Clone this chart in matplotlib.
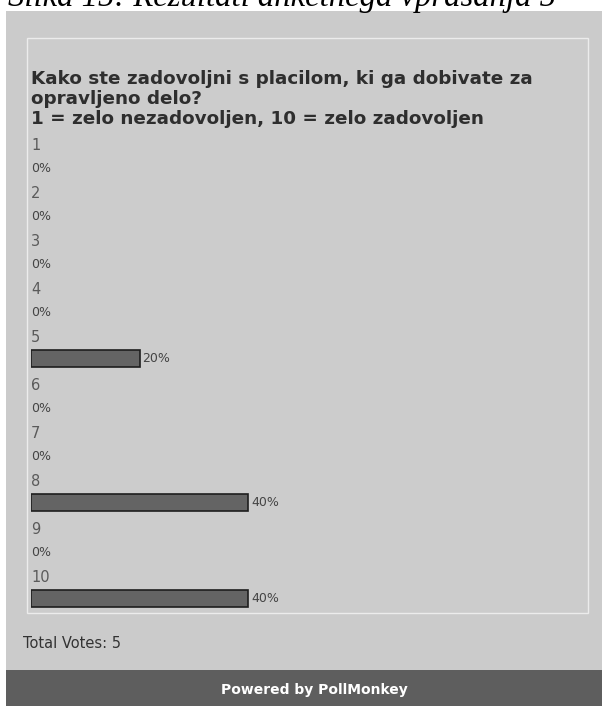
import matplotlib
matplotlib.use("Agg")
import matplotlib.pyplot as plt
from matplotlib.patches import Rectangle

# Poll data
categories = ["1", "2", "3", "4", "5", "6", "7", "8", "9", "10"]
percentages = [0, 0, 0, 0, 20, 0, 0, 40, 0, 40]
question = ["Kako ste zadovoljni s placilom, ki ga dobivate za",
            "opravljeno delo?",
            "1 = zelo nezadovoljen, 10 = zelo zadovoljen"]
total_votes = 5
caption = "Slika 15: Rezultati anketnega vprašanja 5"
footer = "Powered by PollMonkey"

W, H = 602, 706
fig = plt.figure(figsize=(W / 100, H / 100), dpi=100)
fig.patch.set_facecolor("white")

# Background axes in pixel coordinates (y downwards)
bg = fig.add_axes([0, 0, 1, 1])
bg.set_xlim(0, W)
bg.set_ylim(H, 0)
bg.axis("off")

# Caption above the widget, partially cut off by the top edge
bg.text(8, 6, caption, fontsize=23.5, style="italic", family="Liberation Serif",
        color="black", va="baseline", ha="left", clip_on=True)

# Widget panel
bg.add_patch(Rectangle((6, 11), W - 6, 660, facecolor="#cbcbcb", edgecolor="none"))
# Inner box with light border
bg.add_patch(Rectangle((27, 38), 561, 575, facecolor="#cccccc",
                       edgecolor="#ececec", linewidth=1.0))
# Footer band
bg.add_patch(Rectangle((6, 670), W - 6, 36, facecolor="#5e5e5e", edgecolor="none"))

# Question text
for i, line in enumerate(question):
    bg.text(31, 79 + i * 20, line, fontsize=13.2, fontweight="bold",
            color="#2e2e2e", va="center", ha="left", family="DejaVu Sans")

bg.text(23, 643, f"Total Votes: {total_votes}", fontsize=10.5, color="#333333",
        va="center", ha="left", family="DejaVu Sans")
bg.text(314, 690, footer, fontsize=10, fontweight="bold", color="white",
        va="center", ha="center", family="DejaVu Sans")

# Bar axes: x is percentage, rows are answer options
x0_px, full_px = 31, 543
row0_px, row_h = 166, 48
n = len(categories)
top_px = row0_px - row_h / 2
bot_px = row0_px + row_h * (n - 0.5)
ax = fig.add_axes([x0_px / W, 1 - bot_px / H, full_px / W, (bot_px - top_px) / H])
ax.set_xlim(0, 100)
ax.set_ylim(n - 0.5, -0.5)
ax.axis("off")
ax.patch.set_alpha(0)

bar_h = 17 / row_h
px_per_pct = full_px / 100
rows = list(range(n))
ax.barh([r for r, p in zip(rows, percentages) if p > 0],
        [p for p in percentages if p > 0], height=bar_h, left=0,
        color="#646464", edgecolor="#1e1e1e", linewidth=1.2)

for r, cat, p in zip(rows, categories, percentages):
    ax.text(0, r - 21 / row_h, cat, fontsize=10.5, color="#5a5a5a",
            va="center", ha="left", family="DejaVu Sans")
    if p > 0:
        ax.text(p + 3 / px_per_pct, r, f"{p}%", fontsize=9, color="#444444",
                va="center", ha="left", family="DejaVu Sans")
    else:
        ax.text(0, r + 2 / row_h, f"{p}%", fontsize=9, color="#444444",
                va="center", ha="left", family="DejaVu Sans")

fig.savefig("out.png", dpi=100)
